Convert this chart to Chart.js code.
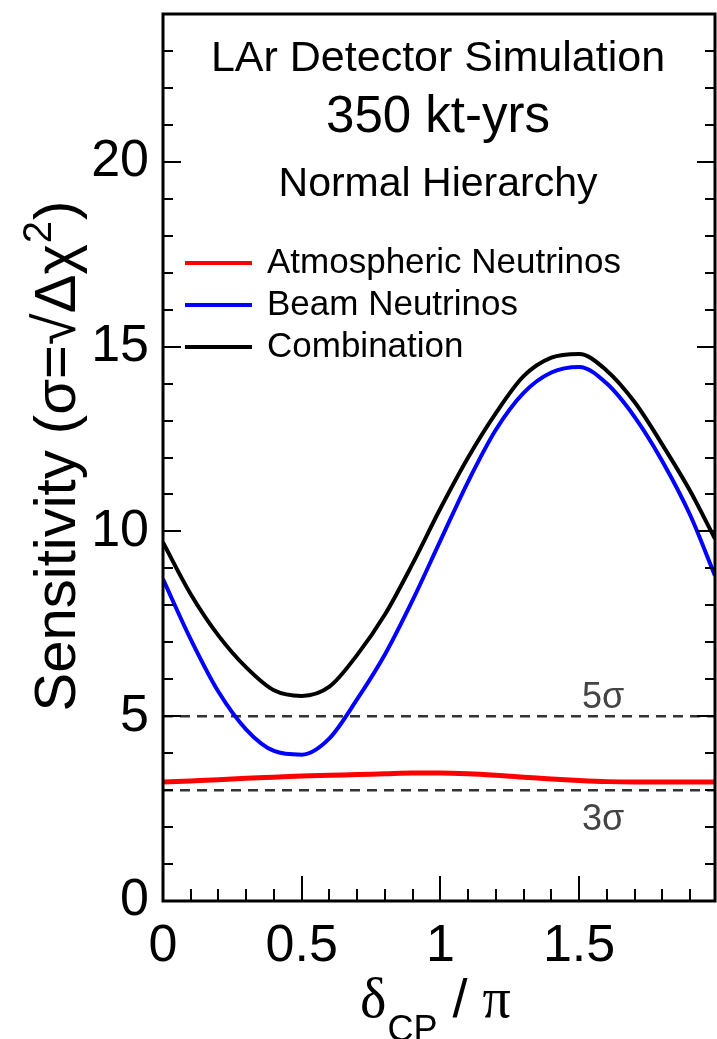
<!DOCTYPE html>
<html>
<head>
<meta charset="utf-8">
<script src="https://cdn.jsdelivr.net/npm/chart.js@4.4.0/dist/chart.umd.min.js"></script>
<style>
  html, body { margin: 0; padding: 0; background: #fff; }
  #wrap { width: 717px; height: 1039px; position: relative; }
</style>
</head>
<body>
<div id="wrap"><canvas id="sensitivityChart"></canvas></div>
<script>
// delta_CP / pi sample points
const deltaCP = [0, 0.1, 0.2, 0.3, 0.4, 0.5, 0.6, 0.7, 0.8, 0.9, 1.0,
                 1.1, 1.2, 1.3, 1.4, 1.5, 1.6, 1.7, 1.8, 1.9, 1.99];
const atmNu = [3.22, 3.25, 3.28, 3.32, 3.35, 3.38, 3.40, 3.42, 3.44, 3.46, 3.46,
               3.44, 3.40, 3.35, 3.30, 3.26, 3.23, 3.22, 3.22, 3.22, 3.22];
const beamNu = [8.71, 7.08, 5.66, 4.64, 4.06, 3.96, 4.40, 5.46, 6.67, 8.14, 9.75,
                11.35, 12.75, 13.75, 14.30, 14.45, 14.00, 13.10, 11.90, 10.45, 8.80];
const combined = [9.70, 8.30, 7.18, 6.32, 5.70, 5.55, 5.80, 6.66, 7.75, 9.13, 10.62,
                  12.00, 13.20, 14.20, 14.70, 14.80, 14.35, 13.50, 12.35, 11.10, 9.80];

const seriesNames = ['Atmospheric Neutrinos', 'Beam Neutrinos', 'Combination'];
const seriesColors = ['#ff0000', '#0000ff', '#000000'];

const sigmaLevels = [5, 3];
const sigmaNames = ['5σ', '3σ'];

const xTicks = [0, 0.5, 1, 1.5];
const yTicks = [0, 5, 10, 15, 20];

const headerLines = ['LAr Detector Simulation', '350 kt-yrs', 'Normal Hierarchy'];

Chart.defaults.font.family = 'Liberation Sans';
Chart.defaults.color = '#000';

const SANS = '"Liberation Sans", Arial, sans-serif';
const SERIF = '"Liberation Serif", "DejaVu Serif", serif';

function toPoints(ys) {
    return deltaCP.map((x, i) => ({ x: x, y: ys[i] }));
}

// frame with ROOT style inward ticks
const framePlugin = {
    id: 'frame',
    afterDatasetsDraw(chart) {
        const ctx = chart.ctx;
        const a = chart.chartArea;
        const xs = chart.scales.x;
        const ys = chart.scales.y;
        ctx.save();
        ctx.strokeStyle = '#000';
        ctx.lineWidth = 2;
        ctx.beginPath();
        for (let v = 0; v <= 24; v++) {
            const py = Math.round(ys.getPixelForValue(v));
            const len = (v % 5 === 0) ? 18 : 10;
            ctx.moveTo(a.left, py); ctx.lineTo(a.left + len, py);
            ctx.moveTo(a.right, py); ctx.lineTo(a.right - len, py);
        }
        for (let k = 0; k <= 19; k++) {
            const v = k / 10;
            const px = Math.round(xs.getPixelForValue(v));
            const len = (k % 5 === 0) ? 25 : 12;
            ctx.moveTo(px, a.bottom); ctx.lineTo(px, a.bottom - len);
        }
        ctx.stroke();
        ctx.lineWidth = 3;
        ctx.strokeRect(a.left, a.top, a.right - a.left, a.bottom - a.top);
        ctx.restore();
    }
};

// texts: header, legend, sigma labels, axis titles
const textPlugin = {
    id: 'texts',
    afterDraw(chart) {
        const ctx = chart.ctx;
        const a = chart.chartArea;
        const ys = chart.scales.y;
        const cx = (a.left + a.right) / 2;
        ctx.save();
        ctx.fillStyle = '#000';
        ctx.textBaseline = 'alphabetic';

        // header
        const hSizes = [43, 51, 41];
        const hBase = [71, 132, 196];
        ctx.textAlign = 'center';
        headerLines.forEach((t, i) => {
            ctx.font = hSizes[i] + 'px ' + SANS;
            ctx.fillText(t, cx - 1, hBase[i]);
        });

        // legend
        ctx.textAlign = 'left';
        ctx.font = '35px ' + SANS;
        seriesNames.forEach((name, i) => {
            const y = 263 + i * 42;
            ctx.strokeStyle = seriesColors[i];
            ctx.lineWidth = 4;
            ctx.beginPath();
            ctx.moveTo(185, y); ctx.lineTo(252, y);
            ctx.stroke();
            ctx.fillStyle = '#000';
            ctx.fillText(name, 267, y + 10);
        });

        // sigma labels
        ctx.fillStyle = '#444';
        ctx.font = '36px ' + SANS;
        sigmaLevels.forEach((lvl, i) => {
            const py = ys.getPixelForValue(lvl);
            const base = i === 0 ? py - 8 : py + 40;
            ctx.fillText(sigmaNames[i], 582, base);
        });

        // y title (rotated)
        ctx.fillStyle = '#000';
        ctx.save();
        ctx.translate(75, 457);
        ctx.rotate(-Math.PI / 2);
        const mainF = '58px ' + SANS;
        const supF = '40px ' + SANS;
        const p1 = 'Sensitivity (σ=√Δχ', p2 = '2', p3 = ')';
        ctx.font = mainF; const w1 = ctx.measureText(p1).width; const w3 = ctx.measureText(p3).width;
        ctx.font = supF; const w2 = ctx.measureText(p2).width;
        let x = -(w1 + w2 + w3) / 2;
        ctx.font = mainF; ctx.fillText(p1, x, 0); x += w1;
        ctx.font = supF; ctx.fillText(p2, x + 1, -24); x += w2 + 2;
        ctx.font = mainF; ctx.fillText(p3, x, 0);
        ctx.restore();

        // x title: delta_CP / pi
        let tx = 360;
        ctx.font = '56px ' + SERIF; ctx.fillText('δ', tx, 1017); tx += ctx.measureText('δ').width + 1;
        ctx.font = '36px ' + SANS; ctx.fillText('CP', tx, 1041); tx += ctx.measureText('CP').width;
        ctx.font = '54px ' + SANS; ctx.fillText(' / ', tx, 1017); tx += ctx.measureText(' / ').width;
        ctx.font = '56px ' + SERIF; ctx.fillText('π', tx, 1017);

        ctx.restore();
    }
};

const curveSets = [atmNu, beamNu, combined].map((vals, i) => ({
    label: seriesNames[i],
    data: toPoints(vals),
    borderColor: seriesColors[i],
    borderWidth: i === 0 ? 5 : 4,
    pointRadius: 0,
    fill: false,
    cubicInterpolationMode: 'monotone',
    order: 0
}));

const sigmaSets = sigmaLevels.map((lvl, i) => ({
    label: sigmaNames[i],
    data: [{ x: deltaCP[0], y: lvl }, { x: deltaCP[deltaCP.length - 1], y: lvl }],
    borderColor: '#333',
    borderWidth: 2.5,
    borderDash: [10, 7],
    pointRadius: 0,
    fill: false,
    order: 5
}));

const ctx = document.getElementById('sensitivityChart').getContext('2d');
new Chart(ctx, {
    type: 'line',
    data: { datasets: curveSets.concat(sigmaSets) },
    options: {
        responsive: true,
        maintainAspectRatio: false,
        animation: false,
        devicePixelRatio: 1,
        layout: { padding: { top: 14, right: 2, left: 0, bottom: 0 } },
        plugins: { legend: { display: false }, tooltip: { enabled: false } },
        scales: {
            x: {
                type: 'linear',
                min: 0,
                max: 1.99,
                afterBuildTicks: s => { s.ticks = xTicks.map(v => ({ value: v })); },
                afterFit: s => { s.height = 138; s.paddingLeft = 0; s.paddingRight = 0; },
                ticks: {
                    font: { size: 52 },
                    color: '#000',
                    padding: 14,
                    maxRotation: 0,
                    autoSkip: false,
                    callback: v => String(v)
                },
                grid: { display: false, drawTicks: false },
                border: { display: false }
            },
            y: {
                type: 'linear',
                min: 0,
                max: 24,
                afterBuildTicks: s => { s.ticks = yTicks.map(v => ({ value: v })); },
                afterFit: s => { s.width = 163; s.paddingTop = 0; s.paddingBottom = 0; },
                ticks: {
                    font: { size: 52 },
                    color: '#000',
                    padding: 14,
                    autoSkip: false,
                    callback: v => String(v)
                },
                grid: { display: false, drawTicks: false },
                border: { display: false }
            }
        }
    },
    plugins: [framePlugin, textPlugin]
});
</script>
</body>
</html>
